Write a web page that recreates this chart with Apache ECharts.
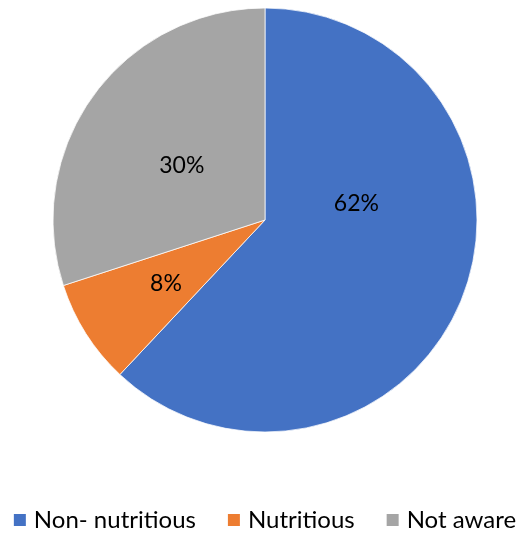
<!DOCTYPE html>
<html>
<head>
<meta charset="utf-8">
<script src="https://cdn.jsdelivr.net/npm/echarts@6/dist/echarts.min.js"></script>
<style>
  html, body { margin: 0; padding: 0; background: #fff; }
  #chart { width: 528px; height: 534px; }
</style>
</head>
<body>
<div id="chart"></div>
<script>
// Awareness of food nutrition, share of respondents
const categories = ['Non- nutritious', 'Nutritious', 'Not aware'];
const shares = [62, 8, 30];
const colors = ['#4472C4', '#ED7D31', '#A5A5A5'];
// Nudges moving each percentage label away from the default inside point
const labelOffsets = [[-10, -57], [-7, 5], [5, 10]];

const chart = echarts.init(document.getElementById('chart'), null, { renderer: 'canvas' });
const fontFamily = 'Lato, "Open Sans", sans-serif';

chart.setOption({
  animation: false,
  color: colors,
  legend: {
    bottom: -3,
    left: 'center',
    itemWidth: 14,
    itemHeight: 14,
    itemGap: 30,
    icon: 'rect',
    textStyle: { fontFamily, fontSize: 24, color: '#000', padding: [0, 0, 0, 2] },
    data: categories
  },
  series: [{
    type: 'pie',
    center: [265, 220],
    radius: [0, 212],
    startAngle: 90,
    clockwise: true,
    avoidLabelOverlap: false,
    itemStyle: { borderColor: '#fff', borderWidth: 0.75 },
    label: {
      show: true,
      position: 'inside',
      formatter: '{c}%',
      fontFamily,
      fontSize: 23,
      color: '#000'
    },
    labelLine: { show: false },
    emphasis: { disabled: true },
    data: categories.map((name, i) => ({
      name,
      value: shares[i],
      label: { offset: labelOffsets[i] }
    }))
  }]
});
</script>
</body>
</html>
